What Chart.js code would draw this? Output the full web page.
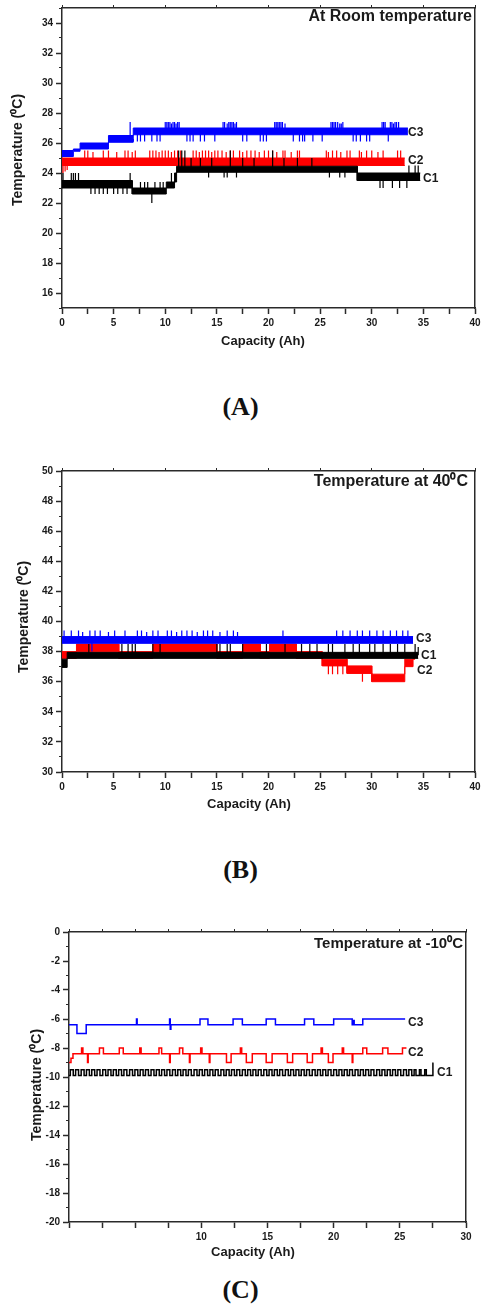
<!DOCTYPE html>
<html>
<head>
<meta charset="utf-8">
<script src="https://cdn.jsdelivr.net/npm/chart.js@4.4.1/dist/chart.umd.min.js"></script>
<style>
  body { margin: 0; width: 481px; height: 1306px; background: #fff; position: relative; overflow: hidden; }
  canvas { position: absolute; left: 0; }
  .cap { position: absolute; left: 0; width: 481px; text-align: center; font: bold 26px "Liberation Serif", serif; line-height: 30px; color: #111; }
</style>
</head>
<body>
<canvas id="chartA" width="481" height="360" style="top:0px"></canvas>
<div class="cap" style="top:392px">(A)</div>
<canvas id="chartB" width="481" height="365" style="top:455px"></canvas>
<div class="cap" style="top:855px">(B)</div>
<canvas id="chartC" width="481" height="375" style="top:890px"></canvas>
<div class="cap" style="top:1275px">(C)</div>
<script>
// ---- Panel A : at room temperature ----
const xLabelsA = [0, 5, 10, 15, 20, 25, 30, 35, 40];
const yTicksA = [16, 18, 20, 22, 24, 26, 28, 30, 32, 34];
// bands: [from Ah, to Ah, low degC, high degC]
const c1BandsA = [[0, 6.8, 23.0, 23.5], [6.8, 10.1, 22.6, 23.0], [10.1, 10.9, 23.0, 23.4], [10.9, 11.1, 23.4, 24.0], [11.1, 28.6, 24.05, 24.45], [28.6, 34.7, 23.5, 24.0]];
const c2BandsA = [[0, 33.2, 24.5, 25.0]];
const c3BandsA = [[0, 1.1, 25.1, 25.5], [1.1, 1.75, 25.45, 25.6], [1.75, 4.5, 25.6, 26.0], [4.5, 6.9, 26.05, 26.5], [6.9, 33.5, 26.55, 27.0]];
// spikes: [Ah, degC reached]
const c1SpikesA = [[0.1, 24.0], [0.9, 24.0], [1.1, 24.0], [1.3, 24.0], [1.6, 24.0], [2.8, 22.6], [3.2, 22.6], [3.6, 22.6], [4.0, 22.6], [4.4, 22.6], [5.0, 22.6], [5.4, 22.6], [5.9, 22.6], [6.3, 22.6], [6.6, 24.0],
  [7.6, 23.4], [8.0, 23.4], [8.3, 23.4], [8.7, 22.0], [9.0, 23.4], [9.5, 23.4], [9.8, 23.4], [10.6, 24.0], [11.3, 25.5], [11.6, 25.5], [11.9, 25.5], [12.5, 25.0], [13.4, 25.0], [14.2, 23.7], [14.5, 25.0],
  [15.7, 23.7], [16.0, 23.7], [16.3, 25.5], [16.9, 23.7], [17.5, 25.0], [18.6, 25.0], [20.4, 25.5], [21.5, 25.0], [22.8, 25.0], [24.2, 25.0], [25.9, 23.7], [26.9, 23.7], [27.4, 23.7], [28.6, 23.5],
  [30.8, 23.0], [31.1, 23.0], [32.0, 23.0], [32.7, 23.0], [33.4, 23.0], [33.6, 24.5], [34.2, 24.5], [34.5, 24.5]];
const c2SpikesA = [[0.1, 24.0], [0.3, 24.1], [0.5, 24.2], [2.2, 25.5], [2.5, 25.5], [3.0, 25.4], [4.0, 25.5], [4.5, 25.5], [5.3, 25.4], [6.1, 25.5], [6.4, 25.5], [6.8, 25.4], [7.1, 25.5],
  [8.5, 25.5], [8.8, 25.5], [9.1, 25.5], [9.4, 25.4], [9.7, 25.5], [10.0, 25.5], [10.3, 25.5], [10.6, 25.4], [10.9, 25.5], [11.2, 25.5], [11.5, 25.5],
  [12.7, 25.5], [13.0, 25.5], [13.3, 25.4], [13.6, 25.5], [13.9, 25.5], [14.2, 25.5], [14.5, 25.4], [14.8, 25.5], [15.1, 25.5], [15.5, 25.5], [15.9, 25.4], [16.3, 25.5], [16.6, 25.5],
  [17.2, 25.5], [17.5, 25.4], [17.9, 25.5], [18.3, 25.5], [18.7, 25.5], [19.1, 25.4], [19.6, 25.5], [20.0, 25.5], [20.4, 25.5], [20.8, 25.4], [21.4, 25.5], [21.6, 25.5], [22.2, 25.4], [22.8, 25.5], [23.0, 25.5],
  [25.6, 25.5], [25.8, 25.4], [26.2, 25.5], [26.6, 25.5], [27.0, 25.4], [27.6, 25.5], [27.9, 25.5], [28.8, 25.5], [29.0, 25.4], [29.5, 25.5], [30.0, 25.5], [30.6, 25.4], [31.1, 25.5], [32.5, 25.5], [32.8, 25.5]];
const c3SpikesA = [[6.6, 27.4], [6.9, 26.1], [7.3, 26.1], [7.6, 26.1], [8.0, 26.1], [8.7, 26.1], [9.2, 26.1], [9.5, 26.1], [10.0, 27.4], [10.15, 27.4], [10.3, 27.4], [10.45, 27.4], [10.6, 27.3],
  [10.75, 27.4], [10.9, 27.4], [11.05, 27.3], [11.2, 27.4], [11.35, 27.4],
  [12.1, 26.1], [12.4, 26.1], [12.7, 26.1], [13.4, 26.1], [13.8, 26.1], [14.8, 26.1], [15.6, 27.4], [15.75, 27.4], [16.0, 27.3], [16.15, 27.4], [16.3, 27.4], [16.45, 27.4], [16.6, 27.4],
  [16.75, 27.3], [16.9, 27.4], [17.5, 26.1], [17.9, 26.1],
  [19.2, 26.1], [19.5, 26.1], [19.8, 26.1], [20.6, 27.4], [20.75, 27.4], [20.9, 27.4], [21.05, 27.4], [21.2, 27.4], [21.35, 27.4], [21.6, 27.3], [22.4, 26.1], [23.0, 26.1], [23.3, 26.1],
  [23.5, 26.1], [24.3, 26.1], [25.2, 26.1],
  [26.05, 27.4], [26.2, 27.4], [26.35, 27.4], [26.5, 27.4], [26.7, 27.4], [26.9, 27.3], [27.05, 27.3], [27.2, 27.4], [28.2, 26.1], [28.5, 26.1], [28.9, 26.1], [29.5, 26.1], [29.8, 26.1],
  [31.0, 27.4], [31.15, 27.4], [31.3, 27.4], [31.6, 26.1], [31.8, 27.4], [31.95, 27.4], [32.1, 27.3], [32.25, 27.4], [32.4, 27.4], [32.6, 27.4]];

// ---- Panel B : at 40 degC ----
const xLabelsB = [0, 5, 10, 15, 20, 25, 30, 35, 40];
const yTicksB = [30, 32, 34, 36, 38, 40, 42, 44, 46, 48, 50];
const c1BandsB = [[0, 0.5, 36.95, 37.5], [0.5, 34.5, 37.55, 37.95]];
const c2BandsB = [[0, 1.4, 37.55, 38.0], [1.4, 5.5, 38.0, 38.5], [5.5, 8.8, 37.55, 38.0], [8.8, 15.0, 38.0, 38.5], [15.0, 17.5, 37.55, 38.0], [17.5, 19.2, 38.0, 38.5],
  [19.2, 20.1, 37.55, 38.0], [20.1, 22.7, 38.0, 38.5], [22.7, 25.2, 37.55, 38.0], [25.2, 27.6, 37.05, 37.5], [27.6, 30.0, 36.55, 37.05], [30.0, 33.2, 36.0, 36.5], [33.2, 34.0, 37.0, 37.5], [34.0, 34.2, 37.5, 37.9]];
const c3BandsB = [[0, 34.0, 38.55, 39.0]];
const c1SpikesB = [[2.6, 38.5], [5.8, 38.5], [6.4, 38.5], [6.8, 38.5], [7.1, 38.5], [8.8, 38.5], [9.5, 38.5], [15.0, 38.5], [15.3, 38.5], [16.0, 38.5], [16.3, 38.5], [17.5, 38.5], [19.8, 38.5],
  [21.6, 38.5], [23.2, 38.5], [24.0, 38.5], [24.7, 38.5],
  [25.8, 38.5], [26.2, 38.5], [27.4, 38.5], [28.2, 38.5], [28.8, 38.5], [29.8, 38.5], [30.3, 38.5], [31.1, 38.5], [31.8, 38.5], [32.5, 38.5], [33.2, 38.5], [34.2, 38.5], [34.5, 38.3]];
const c2SpikesB = [[25.8, 36.5], [26.2, 36.5], [26.7, 36.5], [27.2, 36.5], [29.1, 36.0]];
const c3SpikesB = [[0.2, 39.4], [0.9, 39.4], [1.6, 39.4], [2.0, 39.3], [2.7, 39.4], [2.9, 38.0], [3.2, 39.4], [3.7, 39.4], [4.5, 39.3], [5.1, 39.4], [6.1, 39.4], [7.3, 39.4], [7.7, 39.4], [8.2, 39.3],
  [8.8, 39.4], [9.3, 39.4], [10.2, 39.4], [10.6, 39.4], [11.1, 39.3], [11.6, 39.4], [12.1, 39.4], [12.6, 39.4], [13.1, 39.3], [13.7, 39.4], [14.1, 39.4], [14.6, 39.4], [15.3, 39.3],
  [16.0, 39.4], [16.6, 39.4], [17.0, 39.3], [21.4, 39.4], [26.6, 39.4], [27.2, 39.4], [27.9, 39.4], [28.6, 39.4], [29.1, 39.4], [29.8, 39.4], [30.5, 39.4], [31.1, 39.4], [31.8, 39.4],
  [32.4, 39.4], [33.0, 39.4], [33.5, 39.4]];

// ---- Panel C : at -10 degC ----
const xLabelsC = [10, 15, 20, 25, 30];
const yTicksC = [-20, -18, -16, -14, -12, -10, -8, -6, -4, -2, 0];
// step traces: [Ah, degC from this point on]
const c3StepsC = [[0, -6.4], [0.6, -7.0], [1.3, -6.4], [5.1, -6.0], [5.15, -6.4], [7.6, -6.0], [7.65, -6.7], [7.7, -6.4], [9.9, -6.0], [10.5, -6.4], [12.4, -6.0], [13.1, -6.4],
  [14.9, -6.0], [15.6, -6.4], [17.8, -6.0], [18.5, -6.4], [20.0, -6.0], [21.4, -6.4], [21.5, -6.1], [21.55, -6.4], [22.2, -6.0], [25.4, -6.0]];
const c2StepsC = [[0, -9.0], [0.15, -8.7], [0.3, -8.4], [0.95, -8.0], [1.05, -8.4], [1.4, -9.0], [1.45, -8.4], [2.3, -8.0], [2.6, -8.4], [3.8, -8.0], [4.1, -8.4], [5.35, -8.0], [5.45, -8.4],
  [6.8, -8.0], [7.0, -8.4], [7.6, -9.0], [7.65, -8.4], [8.35, -8.0], [8.6, -8.4], [9.1, -9.0], [9.15, -8.4], [9.95, -8.0], [10.05, -8.4], [10.6, -9.0], [10.65, -8.4],
  [11.9, -9.0], [12.25, -8.4], [12.95, -8.0], [13.05, -8.4], [13.4, -9.0], [13.85, -8.4], [14.9, -9.0], [15.35, -8.4], [16.5, -9.0], [16.9, -8.4], [18.0, -9.0], [18.4, -8.4],
  [19.05, -8.0], [19.15, -8.4], [19.6, -9.0], [19.95, -8.4], [20.65, -8.0], [20.75, -8.4], [21.4, -9.0], [21.45, -8.4], [22.2, -8.0], [22.5, -8.4], [23.7, -8.0], [24.1, -8.4],
  [25.2, -8.0], [25.5, -8.0]];
const c1LevelsC = [-9.9, -9.5];
// C1 pulses: [rise Ah, fall Ah]
const c1PulsesC = [[0.10, 0.32], [0.50, 0.72], [0.92, 1.14], [1.32, 1.54], [1.72, 1.94], [2.12, 2.34], [2.55, 2.77], [2.95, 3.17], [3.35, 3.57], [3.75, 3.97], [4.15, 4.37], [4.58, 4.80],
  [4.98, 5.20], [5.38, 5.60], [5.78, 6.00], [6.20, 6.42], [6.60, 6.82], [7.00, 7.22], [7.40, 7.62], [7.82, 8.04], [8.22, 8.44], [8.62, 8.84], [9.02, 9.24], [9.45, 9.67], [9.85, 10.07],
  [10.25, 10.47], [10.65, 10.87], [11.05, 11.27], [11.48, 11.70], [11.88, 12.10], [12.28, 12.50], [12.68, 12.90], [13.10, 13.32], [13.50, 13.72], [13.90, 14.12], [14.30, 14.52],
  [14.72, 14.94], [15.12, 15.34], [15.52, 15.74], [15.92, 16.14], [16.35, 16.57], [16.75, 16.97], [17.15, 17.37], [17.55, 17.77], [17.95, 18.17], [18.38, 18.60], [18.78, 19.00],
  [19.18, 19.40], [19.58, 19.80], [20.00, 20.22], [20.40, 20.62], [20.80, 21.02], [21.20, 21.42], [21.62, 21.84], [22.02, 22.24], [22.42, 22.64], [22.82, 23.04], [23.25, 23.47],
  [23.65, 23.87], [24.05, 24.27], [24.45, 24.67], [24.85, 25.07], [25.28, 25.50], [25.68, 25.90], [26.08, 26.22], [26.48, 26.60], [26.88, 27.00]];
const c1EndC = [[27.5, -9.05], [27.55, -9.05]];

// colours / fonts
const axisColor = '#2a2a2a';
const textColor = '#1a1a1a';
const BLACK = '#000000', RED = '#ff0000', BLUE = '#0000ff';
const FONT = '"Liberation Sans", Arial, sans-serif';
const tickFont = { family: FONT, size: 10, weight: 'bold' };

// band -> two lines (upper + lower filled between)
function bandLine(bands, k) {
  const pts = [];
  bands.forEach(b => { pts.push({ x: b[0], y: b[k] }, { x: b[1], y: b[k] }); });
  return pts;
}

// spikes start from the middle of the band they sit on
function spikeLine(spikes, bands) {
  const pts = [];
  spikes.forEach(([x, y]) => {
    const b = bands.find(g => x >= g[0] && x <= g[1]) || bands[bands.length - 1];
    pts.push({ x: x, y: (b[2] + b[3]) / 2 }, { x: x, y: y }, { x: x, y: null });
  });
  return pts;
}

function bandSeries(bands, spikes, color) {
  return [
    { data: bandLine(bands, 3), borderColor: color, borderWidth: 1, pointRadius: 0, fill: false },
    { data: bandLine(bands, 2), borderColor: color, borderWidth: 1, pointRadius: 0, fill: '-1', backgroundColor: color },
    { data: spikeLine(spikes, bands), borderColor: color, borderWidth: 1.2, pointRadius: 0, fill: false }
  ];
}

// text drawn on the canvas (titles, series names)
function textPlugin(items) {
  return {
    id: 'panelText',
    afterDraw(chart) {
      const ctx = chart.ctx;
      items.forEach(t => {
        ctx.save();
        ctx.font = t.font;
        ctx.fillStyle = textColor;
        ctx.textAlign = t.align || 'center';
        ctx.textBaseline = 'middle';
        ctx.translate(t.x, t.y);
        if (t.rot) ctx.rotate(t.rot);
        ctx.fillText(t.text, 0, 0);
        ctx.restore();
      });
    }
  };
}

function makeScales(p) {
  return {
    x: {
      type: 'linear', position: 'bottom', min: p.xMin, max: p.xMax,
      border: { display: true, color: axisColor, width: 1.5 },
      grid: { drawOnChartArea: false, tickLength: 6, tickColor: axisColor, tickWidth: 1.5 },
      ticks: {
        stepSize: 2.5, padding: 3, color: textColor, font: tickFont, maxRotation: 0, autoSkip: false,
        callback: v => p.xLabels.includes(v) ? String(v) : ''
      },
      afterFit: s => { s.height = p.xAxisH; s.paddingLeft = 0; s.paddingRight = 0; }
    },
    xTop: {
      type: 'linear', position: 'top', min: p.xMin, max: p.xMax,
      border: { display: true, color: axisColor, width: 1.5 },
      grid: { drawOnChartArea: false, tickLength: 3, tickColor: axisColor, tickWidth: 1 },
      ticks: { display: false, stepSize: p.topStep },
      afterFit: s => { s.height = 3; s.paddingLeft = 0; s.paddingRight = 0; }
    },
    y: {
      type: 'linear', position: 'left', weight: 1, min: p.yMin, max: p.yMax,
      afterBuildTicks: s => { s.ticks = p.yTicks.map(v => ({ value: v })); },
      border: { display: true, color: axisColor, width: 1.5 },
      grid: { drawOnChartArea: false, tickLength: 6, tickColor: axisColor, tickWidth: 1.5 },
      ticks: { padding: 3, color: textColor, font: tickFont },
      afterFit: s => { s.width = p.yAxisW; s.paddingTop = 0; s.paddingBottom = 0; }
    },
    yMinor: {
      type: 'linear', position: 'left', weight: 0, min: p.yMin, max: p.yMax,
      border: { display: false },
      grid: { drawOnChartArea: false, tickLength: 3, tickColor: axisColor, tickWidth: 1 },
      ticks: { display: false, stepSize: 1 },
      afterFit: s => { s.width = 0; s.paddingTop = 0; s.paddingBottom = 0; }
    },
    yRight: {
      type: 'linear', position: 'right', min: p.yMin, max: p.yMax,
      border: { display: true, color: axisColor, width: 1.5 },
      grid: { drawOnChartArea: false, drawTicks: false },
      ticks: { display: false },
      afterFit: s => { s.width = 0; s.paddingTop = 0; s.paddingBottom = 0; }
    }
  };
}

function makeChart(id, datasets, p, texts) {
  const el = document.getElementById(id);
  return new Chart(el.getContext('2d'), {
    type: 'line',
    data: { datasets: datasets },
    options: {
      responsive: false,
      animation: false,
      layout: { padding: { left: 0, right: p.padRight, top: p.padTop, bottom: 0 } },
      plugins: { legend: { display: false }, tooltip: { enabled: false } },
      scales: makeScales(p)
    },
    plugins: [textPlugin(texts)]
  });
}

// step trace for panel C
function stepData(steps) {
  return steps.map(s => ({ x: s[0], y: s[1] }));
}
function pulseData(pulses, levels, end) {
  const pts = [{ x: 0, y: levels[0] }];
  pulses.forEach(([r, f]) => { pts.push({ x: r, y: levels[1] }, { x: f, y: levels[0] }); });
  end.forEach(e => pts.push({ x: e[0], y: e[1] }));
  return pts;
}

const titleFont = 'bold 16px ' + FONT;
const axisFont = 'bold 13px ' + FONT;
const yTitleFont = 'bold 14px ' + FONT;
const lblFont = 'bold 12px ' + FONT;

// Chart A
makeChart('chartA',
  [...bandSeries(c1BandsA, c1SpikesA, BLACK), ...bandSeries(c3BandsA, c3SpikesA, BLUE), ...bandSeries(c2BandsA, c2SpikesA, RED)],
  { xMin: 0, xMax: 40, yMin: 15, yMax: 35, xLabels: xLabelsA, yTicks: yTicksA, xAxisH: 52, yAxisW: 62, padRight: 6, padTop: 5, topStep: 5 },
  [
    { text: 'At Room temperature', x: 472, y: 17, align: 'right', font: titleFont },
    { text: 'Temperature (\u2070C)', x: 18, y: 150, font: yTitleFont, rot: -Math.PI / 2 },
    { text: 'Capacity (Ah)', x: 263, y: 341, font: axisFont },
    { text: 'C3', x: 408, y: 133, align: 'left', font: lblFont },
    { text: 'C2', x: 408, y: 161, align: 'left', font: lblFont },
    { text: 'C1', x: 423, y: 179, align: 'left', font: lblFont }
  ]);

// Chart B
makeChart('chartB',
  [...bandSeries(c1BandsB, c1SpikesB, BLACK), ...bandSeries(c3BandsB, c3SpikesB, BLUE), ...bandSeries(c2BandsB, c2SpikesB, RED)],
  { xMin: 0, xMax: 40, yMin: 30, yMax: 50, xLabels: xLabelsB, yTicks: yTicksB, xAxisH: 48, yAxisW: 62, padRight: 6, padTop: 13, topStep: 5 },
  [
    { text: 'Temperature at 40\u2070C', x: 468, y: 27, align: 'right', font: titleFont },
    { text: 'Temperature (\u2070C)', x: 24, y: 162, font: yTitleFont, rot: -Math.PI / 2 },
    { text: 'Capacity (Ah)', x: 249, y: 349, font: axisFont },
    { text: 'C3', x: 416, y: 184, align: 'left', font: lblFont },
    { text: 'C1', x: 421, y: 201, align: 'left', font: lblFont },
    { text: 'C2', x: 417, y: 216, align: 'left', font: lblFont }
  ]);

// Chart C
makeChart('chartC',
  [
    { data: pulseData(c1PulsesC, c1LevelsC, c1EndC), stepped: true, borderColor: BLACK, borderWidth: 1.5, pointRadius: 0, fill: false },
    { data: stepData(c3StepsC), stepped: true, borderColor: BLUE, borderWidth: 1.5, pointRadius: 0, fill: false },
    { data: stepData(c2StepsC), stepped: true, borderColor: RED, borderWidth: 1.5, pointRadius: 0, fill: false }
  ],
  { xMin: 0, xMax: 30, yMin: -20, yMax: 0, xLabels: xLabelsC, yTicks: yTicksC, xAxisH: 43, yAxisW: 69, padRight: 15, padTop: 39, topStep: 2.5 },
  [
    { text: 'Temperature at -10\u2070C', x: 463, y: 54, align: 'right', font: 'bold 15px ' + FONT },
    { text: 'Temperature (\u2070C)', x: 37, y: 195, font: yTitleFont, rot: -Math.PI / 2 },
    { text: 'Capacity (Ah)', x: 253, y: 362, font: axisFont },
    { text: 'C3', x: 408, y: 133, align: 'left', font: lblFont },
    { text: 'C2', x: 408, y: 163, align: 'left', font: lblFont },
    { text: 'C1', x: 437, y: 183, align: 'left', font: lblFont }
  ]);
</script>
</body>
</html>
